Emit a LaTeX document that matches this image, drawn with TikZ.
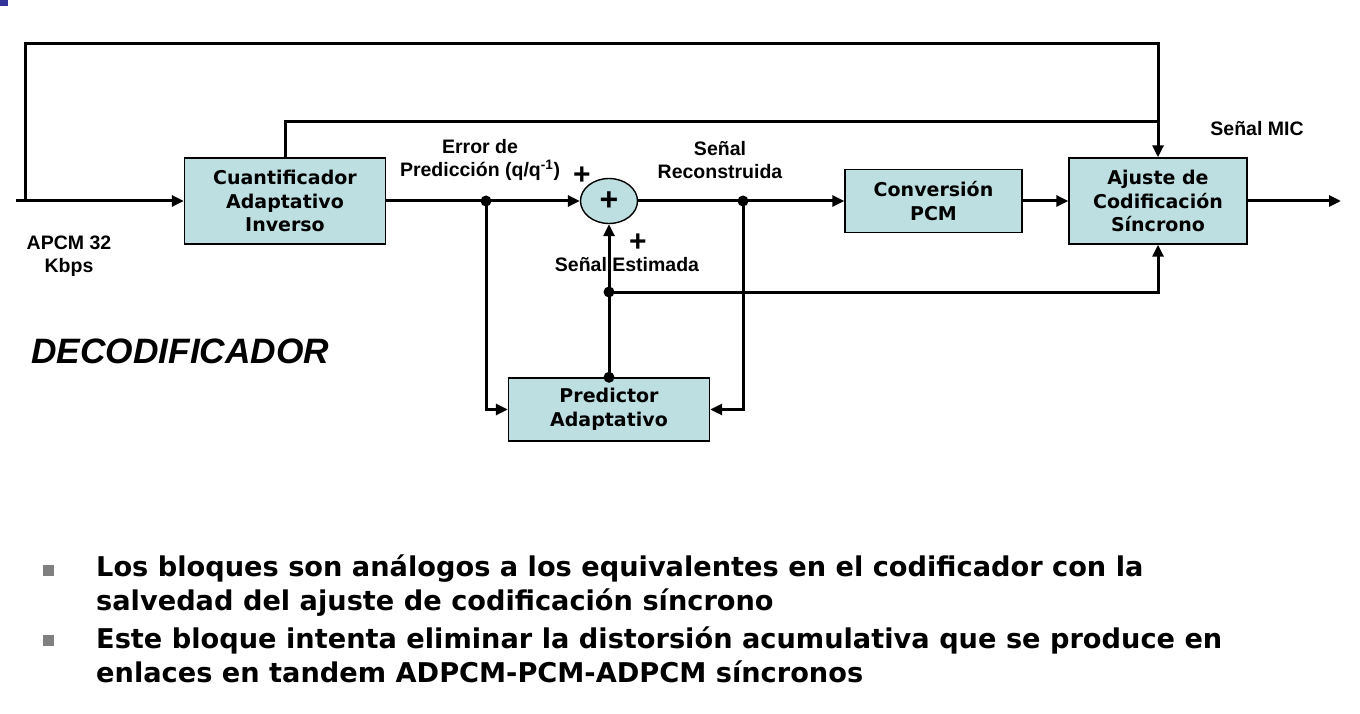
\documentclass[tikz,border=0pt]{standalone}
\usepackage{fontspec}
\setmainfont{Liberation Sans}
\newfontfamily\verd{DejaVu Sans}
\usetikzlibrary{arrows.meta,shapes.geometric}
\definecolor{boxfill}{RGB}{190,223,226}
\definecolor{bulgray}{RGB}{128,128,128}
\definecolor{cornerblue}{RGB}{51,51,153}
\tikzset{
  wire/.style={line width=3pt, line join=miter},
  arr/.style={wire, -{Triangle[length=12pt,width=11pt]}},
  blk/.style={draw, line width=1.4pt, fill=boxfill, align=center, inner sep=0pt,
    font=\verd\bfseries\fontsize{19}{23.5}\selectfont},
  lbl/.style={align=center, inner sep=0pt, font=\bfseries\fontsize{19.5}{23}\selectfont},
  plussign/.style={inner sep=0pt, font=\bfseries\fontsize{30}{30}\selectfont},
  dot/.style={circle, fill=black, inner sep=0pt, minimum size=11pt},
  bultext/.style={anchor=north west, align=left, inner sep=0pt,
    font=\verd\bfseries\fontsize{27.2}{34}\selectfont}
}
\begin{document}
\begin{tikzpicture}[x=1pt,y=-1pt]
\useasboundingbox (0,0) rectangle (1360,714);
\fill[cornerblue] (0,0) rectangle (8,6);
% blocks
\node[blk, minimum width=201pt, minimum height=86pt] (cuant) at (285,201) {Cuantificador\\Adaptativo\\Inverso};
\node[blk, ellipse, minimum width=57pt, minimum height=45pt, font=\bfseries\fontsize{32}{32}\selectfont] (adder) at (609,201) {+};
\node[blk, minimum width=177pt, minimum height=63pt] (conv) at (933.5,201) {Conversión\\PCM};
\node[blk, minimum width=178pt, minimum height=86pt] (ajuste) at (1158,201) {Ajuste de\\Codificación\\Síncrono};
\node[blk, minimum width=201pt, minimum height=63pt] (pred) at (609,409.5) {Predictor\\Adaptativo};
% coordinates
\coordinate (in) at (16,201);
\coordinate (tl) at (25,201);
\coordinate (topc) at (25,44);
\coordinate (midc) at (1158,122);
\coordinate (j1) at (486,201);
\coordinate (j2) at (743,201);
\coordinate (j3) at (609,292);
\coordinate (out) at (1341,201);
% connectors
\draw[arr] (in) -- (cuant.west);
\draw[arr] (tl) -- (topc) -| (ajuste.north);
\draw[wire] (cuant.north) |- (midc);
\draw[arr] (cuant.east) -- (adder.west);
\draw[arr] (j1) |- (pred.west);
\draw[arr] (adder.east) -- (conv.west);
\draw[arr] (j2) |- (pred.east);
\draw[arr] (conv.east) -- (ajuste.west);
\draw[arr] (ajuste.east) -- (out);
\draw[arr] (pred.north) -- (adder.south);
\draw[arr] (j3) -| (ajuste.south);
\node[dot] at (j1) {};
\node[dot] at (j2) {};
\node[dot] at (j3) {};
\node[dot] at (pred.north) {};
% labels
\node[lbl] (err) at (480,160) {Error de\\Predicción (q/q\textsuperscript{-1})};
\node[lbl] (rec) at (720,160) {Señal\\Reconstruida};
\node[lbl] (est) at (627,265) {Señal Estimada};
\node[lbl] (mic) at (1257,129) {Señal MIC};
\node[lbl] (apcm) at (69,256) {APCM 32\\Kbps};
\node[plussign] (p1) at (582,176) {+};
\node[plussign] (p2) at (638,243) {+};
\node[anchor=west, inner sep=0pt, font=\bfseries\itshape\fontsize{35.3}{40}\selectfont] (deco) at (31,351) {DECODIFICADOR};
% bullets
\fill[bulgray] (43,565) rectangle (54,576);
\fill[bulgray] (43,635) rectangle (54,646);
\node[bultext] (b1) at (96,555) {Los bloques son análogos a los equivalentes en el codificador con la\\salvedad del ajuste de codificación síncrono};
\node[bultext] (b2) at (96,627) {Este bloque intenta eliminar la distorsión acumulativa que se produce en\\enlaces en tandem ADPCM-PCM-ADPCM síncronos};
\end{tikzpicture}
\end{document}
